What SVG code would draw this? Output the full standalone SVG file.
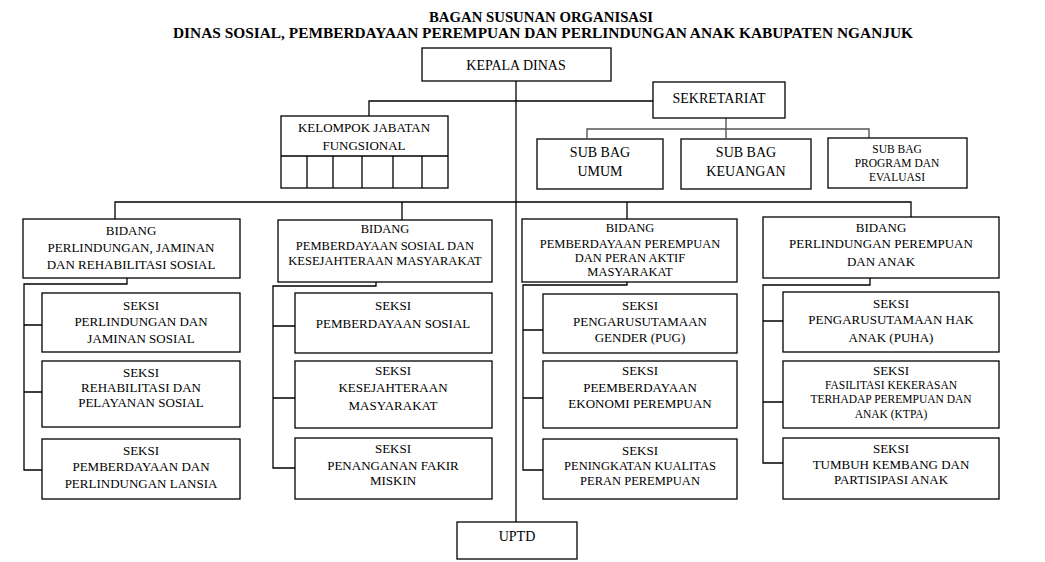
<svg xmlns="http://www.w3.org/2000/svg" width="1045" height="562" viewBox="0 0 1045 562">
<style>
.bg{fill:#fff}
.box{fill:#fff;stroke:#000;stroke-width:1.3}
.ln{fill:none;stroke:#000;stroke-width:1.3}
.gl{fill:none;stroke:#555;stroke-width:1.4}
text{font-family:"Liberation Serif","Times New Roman",serif;text-anchor:middle;fill:#000}
.t14{font-size:14px}
.t13{font-size:13px}
.t12{font-size:12.5px}
.t11{font-size:11.5px}
.title{font-size:14px;font-weight:bold}
</style>
<rect class="bg" x="0" y="0" width="1045" height="562"/>
<g id="title">
<text class="title" x="541" y="22" textLength="224" lengthAdjust="spacingAndGlyphs">BAGAN SUSUNAN  ORGANISASI</text>
<text class="title" x="543" y="38" textLength="740" lengthAdjust="spacingAndGlyphs">DINAS SOSIAL,  PEMBERDAYAAN  PEREMPUAN  DAN PERLINDUNGAN  ANAK  KABUPATEN  NGANJUK</text>
</g>
<g id="connectors">
<path class="ln" d="M516 81 V522"/>
<path class="ln" d="M653 101 H369 V116"/>
<path class="gl" d="M726 118 V138 M587 138 V129 H869 V138"/>
<path class="ln" d="M115 219 V202 H911 V217 M402 202 V220 M627 202 V219"/>
<path class="ln" d="M127 278 V284 H24 V470 H42 M24 325 H42 M24 392 H42"/>
<path class="ln" d="M376 282 V286 H273 V468 H295 M273 326 H295 M273 398 H295"/>
<path class="ln" d="M627 282 V285 H523 V470 H543 M523 330 H543 M523 398 H543"/>
<path class="ln" d="M870 278 V285 H763 V463 H783 M763 321 H783 M763 402 H783"/>
</g>
<g id="kepala">
<rect class="box" x="422" y="48" width="189" height="33"/>
<text class="t14" x="516" y="70">KEPALA DINAS</text>
</g>
<g id="sekretariat">
<rect class="box" x="653" y="82" width="132" height="36"/>
<text class="t14" x="719" y="103">SEKRETARIAT</text>
</g>
<g id="kelompok">
<rect class="box" x="281" y="116" width="167" height="72"/>
<path class="ln" d="M281 156 H448 M307 156 V188 M333 156 V188 M362 156 V188 M393 156 V188 M422 156 V188"/>
<text class="t13" x="364" y="132">KELOMPOK JABATAN</text>
<text class="t13" x="364" y="150">FUNGSIONAL</text>
</g>
<g id="subbag-umum">
<rect class="box" x="537" y="139" width="126" height="50"/>
<text class="t14" x="600" y="157">SUB BAG</text>
<text class="t14" x="600" y="176">UMUM</text>
</g>
<g id="subbag-keuangan">
<rect class="box" x="681" y="139" width="130" height="50"/>
<text class="t14" x="746" y="157">SUB BAG</text>
<text class="t14" x="746" y="176">KEUANGAN</text>
</g>
<g id="subbag-program">
<rect class="box" x="828" y="138" width="139" height="50"/>
<text class="t11" x="897" y="153">SUB BAG</text>
<text class="t11" x="897" y="167">PROGRAM DAN</text>
<text class="t11" x="897" y="181">EVALUASI</text>
</g>
<g id="bidang1">
<rect class="box" x="23" y="219" width="217" height="59"/>
<text class="t13" x="131" y="235">BIDANG</text>
<text class="t13" x="131" y="252">PERLINDUNGAN, JAMINAN</text>
<text class="t13" x="131" y="269">DAN REHABILITASI SOSIAL</text>
</g>
<g id="seksi1a">
<rect class="box" x="42" y="293" width="198" height="59"/>
<text class="t13" x="141" y="310">SEKSI</text>
<text class="t13" x="141" y="326">PERLINDUNGAN DAN</text>
<text class="t13" x="141" y="343">JAMINAN SOSIAL</text>
</g>
<g id="seksi1b">
<rect class="box" x="42" y="361" width="198" height="66"/>
<text class="t13" x="141" y="377">SEKSI</text>
<text class="t13" x="141" y="392">REHABILITASI DAN</text>
<text class="t13" x="141" y="407">PELAYANAN SOSIAL</text>
</g>
<g id="seksi1c">
<rect class="box" x="42" y="439" width="198" height="60"/>
<text class="t13" x="141" y="455">SEKSI</text>
<text class="t13" x="141" y="471">PEMBERDAYAAN DAN</text>
<text class="t13" x="141" y="488">PERLINDUNGAN LANSIA</text>
</g>
<g id="bidang2">
<rect class="box" x="278" y="220" width="214" height="62"/>
<text class="t12" x="385" y="233">BIDANG</text>
<text class="t12" x="385" y="250">PEMBERDAYAAN SOSIAL DAN</text>
<text class="t12" x="385" y="265">KESEJAHTERAAN MASYARAKAT</text>
</g>
<g id="seksi2a">
<rect class="box" x="295" y="293" width="197" height="60"/>
<text class="t13" x="393" y="310">SEKSI</text>
<text class="t13" x="393" y="328">PEMBERDAYAAN SOSIAL</text>
</g>
<g id="seksi2b">
<rect class="box" x="295" y="361" width="197" height="67"/>
<text class="t13" x="393" y="375">SEKSI</text>
<text class="t13" x="393" y="392">KESEJAHTERAAN</text>
<text class="t13" x="393" y="410">MASYARAKAT</text>
</g>
<g id="seksi2c">
<rect class="box" x="295" y="438" width="197" height="61"/>
<text class="t13" x="393" y="453">SEKSI</text>
<text class="t13" x="393" y="470">PENANGANAN FAKIR</text>
<text class="t13" x="393" y="485">MISKIN</text>
</g>
<g id="bidang3">
<rect class="box" x="522" y="219" width="215" height="63"/>
<text class="t12" x="630" y="232">BIDANG</text>
<text class="t12" x="630" y="248">PEMBERDAYAAN PEREMPUAN</text>
<text class="t12" x="630" y="262">DAN PERAN AKTIF</text>
<text class="t12" x="630" y="276">MASYARAKAT</text>
</g>
<g id="seksi3a">
<rect class="box" x="543" y="294" width="194" height="59"/>
<text class="t13" x="640" y="310">SEKSI</text>
<text class="t13" x="640" y="326">PENGARUSUTAMAAN</text>
<text class="t13" x="640" y="342">GENDER (PUG)</text>
</g>
<g id="seksi3b">
<rect class="box" x="543" y="361" width="194" height="67"/>
<text class="t13" x="640" y="375">SEKSI</text>
<text class="t13" x="640" y="392">PEEMBERDAYAAN</text>
<text class="t13" x="640" y="408">EKONOMI PEREMPUAN</text>
</g>
<g id="seksi3c">
<rect class="box" x="543" y="439" width="194" height="60"/>
<text class="t13" x="640" y="455">SEKSI</text>
<text class="t12" x="640" y="470">PENINGKATAN KUALITAS</text>
<text class="t12" x="640" y="485">PERAN PEREMPUAN</text>
</g>
<g id="bidang4">
<rect class="box" x="763" y="217" width="236" height="61"/>
<text class="t13" x="881" y="232">BIDANG</text>
<text class="t13" x="881" y="248">PERLINDUNGAN PEREMPUAN</text>
<text class="t13" x="881" y="266">DAN ANAK</text>
</g>
<g id="seksi4a">
<rect class="box" x="783" y="292" width="216" height="60"/>
<text class="t13" x="891" y="308">SEKSI</text>
<text class="t13" x="891" y="324">PENGARUSUTAMAAN HAK</text>
<text class="t13" x="891" y="342">ANAK (PUHA)</text>
</g>
<g id="seksi4b">
<rect class="box" x="783" y="361" width="216" height="67"/>
<text class="t13" x="891" y="375">SEKSI</text>
<text class="t11" x="891" y="389">FASILITASI KEKERASAN</text>
<text class="t11" x="891" y="403">TERHADAP PEREMPUAN DAN</text>
<text class="t11" x="891" y="418">ANAK (KTPA)</text>
</g>
<g id="seksi4c">
<rect class="box" x="783" y="438" width="216" height="61"/>
<text class="t13" x="891" y="453">SEKSI</text>
<text class="t13" x="891" y="469">TUMBUH KEMBANG DAN</text>
<text class="t13" x="891" y="484">PARTISIPASI ANAK</text>
</g>
<g id="uptd">
<rect class="box" x="457" y="522" width="120" height="37"/>
<text class="t14" x="517" y="541">UPTD</text>
</g>
</svg>
